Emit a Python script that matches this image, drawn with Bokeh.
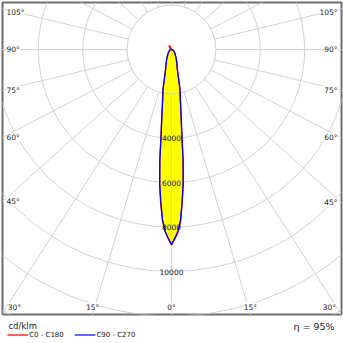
import numpy as np
from bokeh.plotting import figure
from bokeh.models import Range1d, ColumnDataSource, LabelSet
from bokeh.layouts import column
from bokeh.embed import file_html
from bokeh.resources import INLINE
from bokeh.core.properties import value

# ---------------- data (luminous intensity, cd/klm) ----------------
gamma = [0, 1, 2, 3, 4, 5, 6, 7, 8, 9, 10, 12, 14, 16, 20, 25, 30, 40, 50, 60, 70, 80, 90,
         105, 120, 135, 150, 165, 180]
c0 = [8800, 8530, 8260, 7790, 6900, 6040, 4980, 3800, 3140, 2650, 2290, 1840, 1280, 975, 725,
      525, 395, 232, 158, 108, 68, 38, 18, 8, 0, 0, 0, 0, 0]
c180 = [8800, 8510, 8200, 7730, 6960, 6150, 5080, 3860, 3170, 2670, 2300, 1850, 1290, 985, 735,
        535, 405, 238, 162, 112, 72, 42, 22, 10, 30, 120, 220, 70, 0]
c90 = [8790, 8500, 8200, 7700, 6880, 6060, 5000, 3820, 3150, 2660, 2300, 1850, 1290, 980, 730,
       530, 400, 235, 160, 110, 70, 40, 20, 8, 0, 0, 0, 0, 0]
c270 = [8790, 8500, 8200, 7700, 6890, 6070, 5010, 3830, 3155, 2660, 2300, 1850, 1290, 980, 730,
        530, 400, 235, 160, 110, 70, 40, 20, 8, 0, 0, 0, 0, 0]

rings = [2000, 4000, 6000, 8000, 10000, 12000, 14000]
ring_labels = [4000, 6000, 8000, 10000]
spoke_angles = list(range(0, 360, 15))
side_label_angles = [105, 90, 75, 60, 45]
bottom_label_angles = [30, 15, 0, 15, 30]
bottom_label_sides = [-1, -1, 0, 1, 1]
legend_names = ["C0 - C180", "C90 - C270"]
legend_colors = ["#ff3030", "#3030ff"]
unit_text = "cd/klm"
efficiency_text = "η = 95%"

# ---------------- layout ----------------
FONT = "DejaVu Sans"
TXT = "#1a1a1a"
GRID = "#d2d2d2"
REF_CX, REF_CY = 171.0, 49.0
REF_LEFT, REF_RIGHT, REF_TOP, REF_BOTTOM = 2.0, 341.0, 2.0, 314.0
CD_PER_PX = 2000 / 44.4
K = 0.9

xmin = (REF_LEFT - REF_CX) * CD_PER_PX
xmax = (REF_RIGHT - REF_CX) * CD_PER_PX
ymax = (REF_CY - REF_TOP) * CD_PER_PX
ymin = (REF_CY - REF_BOTTOM) * CD_PER_PX

W = 343
H1 = 316
H2 = 343 - H1

p = figure(width=W, height=H1, x_range=Range1d(xmin, xmax), y_range=Range1d(ymin, ymax),
           x_axis_location=None, y_axis_location=None, output_backend="svg",
           toolbar_location=None, min_border_left=2, min_border_right=2,
           min_border_top=2, min_border_bottom=2)
p.grid.visible = False
p.outline_line_color = "#6e6e6e"
p.outline_line_width = 2
p.background_fill_color = "white"
p.border_fill_color = "white"

g = np.radians(gamma)


def plane(left, right):
    gl = g[::-1]
    il = np.array(left, float)[::-1]
    gr = g[1:]
    ir = np.array(right, float)[1:]
    xs = np.concatenate([-il * np.sin(gl), ir * np.sin(gr)])
    ys = np.concatenate([-il * np.cos(gl), -ir * np.cos(gr)])
    return xs, ys


rx, ry = plane(c180, c0)
bx, by = plane(c270, c90)

p.patch(rx, ry, fill_color="#ffff00", line_color=None)
p.patch(bx, by, fill_color="#ffff00", line_color=None)

# rings
p.circle(x=[0] * len(rings), y=[0] * len(rings), radius=rings,
         fill_color=None, line_color=GRID, line_width=1)

# spokes
a = np.radians(spoke_angles)
dx = np.sin(a)
dy = -K * np.cos(a)
n = np.hypot(dx, dy)
dx, dy = dx / n, dy / n
r0, r1 = rings[0], 40000
p.segment(x0=r0 * dx, y0=r0 * dy, x1=r1 * dx, y1=r1 * dy, line_color=GRID, line_width=1)

# curves
p.line(rx, ry, line_color="#ff0000", line_width=1.3)
p.line(bx, by, line_color="#0000ff", line_width=1.3)

# ring labels
ring_src = ColumnDataSource(dict(x=[0] * len(ring_labels), y=[-v for v in ring_labels],
                                 t=[str(v) for v in ring_labels]))
p.add_layout(LabelSet(x="x", y="y", text="t", source=ring_src, text_align="center",
                      text_baseline="middle", text_font=value(FONT), text_font_size="7.5px",
                      text_color=TXT))

# angle labels on the sides
ly, ry_, lt = [], [], []
for ang in side_label_angles:
    t = np.radians(ang)
    ddx, ddy = np.sin(t), -K * np.cos(t)
    yl = min(ddy * (-xmin / ddx), ymax - 10 * CD_PER_PX)
    yr = min(ddy * (xmax / ddx), ymax - 10 * CD_PER_PX)
    ly.append(yl)
    ry_.append(yr)
    lt.append(f"{ang}°")
left_src = ColumnDataSource(dict(x=[xmin] * len(lt), y=ly, t=lt))
right_src = ColumnDataSource(dict(x=[xmax] * len(lt), y=ry_, t=lt))
common = dict(text_baseline="middle", text_font=value(FONT), text_font_size="7.5px",
              text_color=TXT, background_fill_color="white")
p.add_layout(LabelSet(x="x", y="y", text="t", source=left_src, x_offset=4,
                      text_align="left", **common))
p.add_layout(LabelSet(x="x", y="y", text="t", source=right_src, x_offset=-4,
                      text_align="right", **common))

# angle labels at the bottom
bxs, bts = [], []
for ang, side in zip(bottom_label_angles, bottom_label_sides):
    t = np.radians(ang)
    ddx, ddy = np.sin(t), -K * np.cos(t)
    xx = ddx * (ymin / ddy)
    lim = (xmax - 12 * CD_PER_PX) if side > 0 else (-xmin - 12 * CD_PER_PX)
    xx = min(xx, lim) * side
    bxs.append(xx)
    bts.append(f"{ang}°")
bot_src = ColumnDataSource(dict(x=bxs, y=[ymin] * len(bxs), t=bts))
p.add_layout(LabelSet(x="x", y="y", text="t", source=bot_src, y_offset=3,
                      text_align="center", text_baseline="bottom", text_font=value(FONT),
                      text_font_size="7.5px", text_color=TXT,
                      background_fill_color="white"))

# ---------------- legend strip ----------------
p2 = figure(width=W, height=H2, x_range=Range1d(0, 343), y_range=Range1d(343, 343 - H2),
            x_axis_location=None, y_axis_location=None, output_backend="svg",
            toolbar_location=None, min_border=0)
p2.grid.visible = False
p2.outline_line_color = None
p2.background_fill_color = "white"
p2.border_fill_color = "white"

p2.text(x=[6], y=[325.5], text=[unit_text], text_font=value(FONT), text_font_size="8.5px",
        text_align="left", text_baseline="middle", text_color=TXT)
p2.text(x=[336], y=[325.5], text=[efficiency_text], text_font=value(FONT),
        text_font_size="9.5px", text_align="right", text_baseline="middle",
        text_color=TXT)
LEG_X = [5, 73]
for lx, name, col in zip(LEG_X, legend_names, legend_colors):
    p2.line(x=[lx, lx + 21], y=[334.5, 334.5], line_color=col, line_width=1.5)
    p2.text(x=[lx + 22], y=[334.5], text=[name], text_font=value(FONT), text_font_size="7px",
            text_align="left", text_baseline="middle", text_color=TXT)

layout = column(p, p2, spacing=0)
open("out.html", "w").write(file_html(layout, INLINE))
